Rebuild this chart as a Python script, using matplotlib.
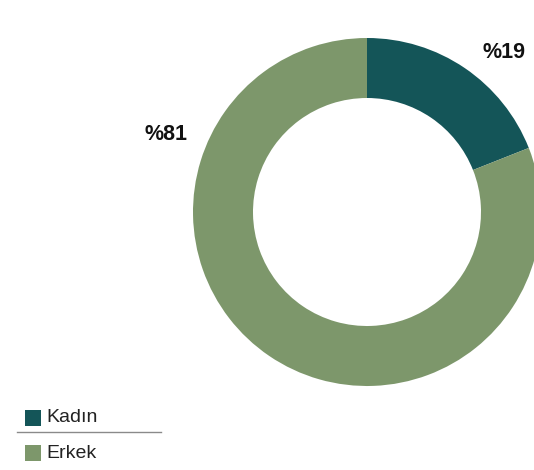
import matplotlib.pyplot as plt
from matplotlib.patches import Rectangle
from matplotlib.lines import Line2D

plt.rcParams['font.family'] = ['Liberation Sans', 'DejaVu Sans']

# data
labels = ['Kadın', 'Erkek']
values = [19, 81]
colors = ['#145558', '#7d976b']
pct_text = ['%19', '%81']

W, H = 534, 470
fig = plt.figure(figsize=(W / 100, H / 100), dpi=100)
ax = fig.add_axes([0, 0, 1, 1])

# pie centre (367, 212) px, radius 174 px
cx, cy, r = 367, 212, 174
ax.pie(values, colors=colors, startangle=90, counterclock=False,
       radius=1, wedgeprops=dict(width=60 / r, linewidth=0))
ax.set_xlim((0 - cx) / r, (W - cx) / r)
ax.set_ylim((cy - H) / r, cy / r)
ax.set_aspect('equal')
ax.axis('off')

# percentage labels
label_px = [(504, 52), (166, 135)]
for t, (px, py) in zip(pct_text, label_px):
    ax.text((px - cx) / r, (cy - py) / r, t, ha='center', va='center',
            fontsize=15.5, fontweight='bold', color='#111111')

# legend
rows_y = [418, 453]
for lab, col, y in zip(labels, colors, rows_y):
    fig.add_artist(Rectangle((25 / W, 1 - (y + 8) / H), 16 / W, 16 / H,
                             transform=fig.transFigure, color=col, lw=0))
    fig.text(46 / W, 1 - y / H, lab, ha='left', va='center',
             fontsize=14, color='#222222')
fig.add_artist(Line2D([17 / W, 161 / W], [1 - 432 / H, 1 - 432 / H],
                      transform=fig.transFigure, color='#8a8a8a', lw=1))

fig.savefig('out.png', dpi=100)
